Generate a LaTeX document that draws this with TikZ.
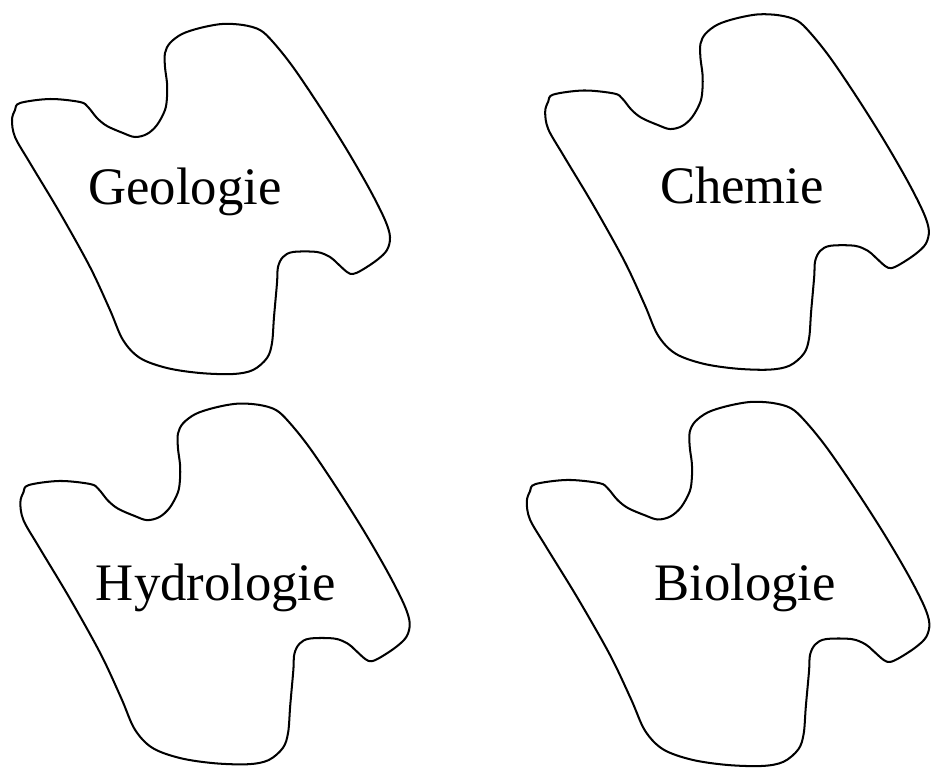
\documentclass[tikz,border=0pt]{standalone}
\usepackage{fontspec}
\setmainfont{Liberation Serif}
\usepackage{tikz}
\usetikzlibrary{positioning}

\tikzset{
    pics/blob/.style={code={
        \draw[outline] plot[smooth cycle, tension=0.55] coordinates {
            (15,110) (20,103) (50,99) (80,102) (88,107) (97,118) (107,126)
            (123,133) (135,137) (147,134) (157,125) (165,110) (167,97)
            (167,83) (165,67) (165,53) (170,43) (182,34) (200,28) (222,24)
            (243,25) (260,30) (273,42) (293,67) (320,107) (347,150)
            (370,190) (385,220) (390,237) (387,250) (377,260) (362,270)
            (353,274) (347,272) (337,263) (330,257) (317,252) (293,252)
            (283,257) (278,267) (277,283) (274,317) (272,343) (267,358)
            (253,370) (233,374) (200,373) (167,368) (140,358) (123,340)
            (110,310) (90,267) (60,213) (30,163) (15,137) (12,120)};
    }}
}

\begin{document}
\begin{tikzpicture}[
    x=0.02cm, y=-0.02cm,
    outline/.style={draw, line width=1.15pt},
    field/.style={anchor=base, inner sep=0pt, font=\fontsize{30}{36}\selectfont}
]
    \useasboundingbox (0,0) rectangle (933,768);

    % Areas
    \pic at (0,0) {blob};
    \pic[scale=1.015] at (533,-10) {blob};
    \pic[scale=1.03] at (8,379) {blob};
    \pic[xscale=1.065, yscale=1.04] at (514,377) {blob};

    % Labels
    \node[field] (geo) at (185,204) {Geologie};
    \node[field] (chem) at (742,203) {Chemie};
    \node[field] (hydro) at (216,600) {Hydrologie};
    \node[field] (bio) at (745,600) {Biologie};

\end{tikzpicture}
\end{document}
